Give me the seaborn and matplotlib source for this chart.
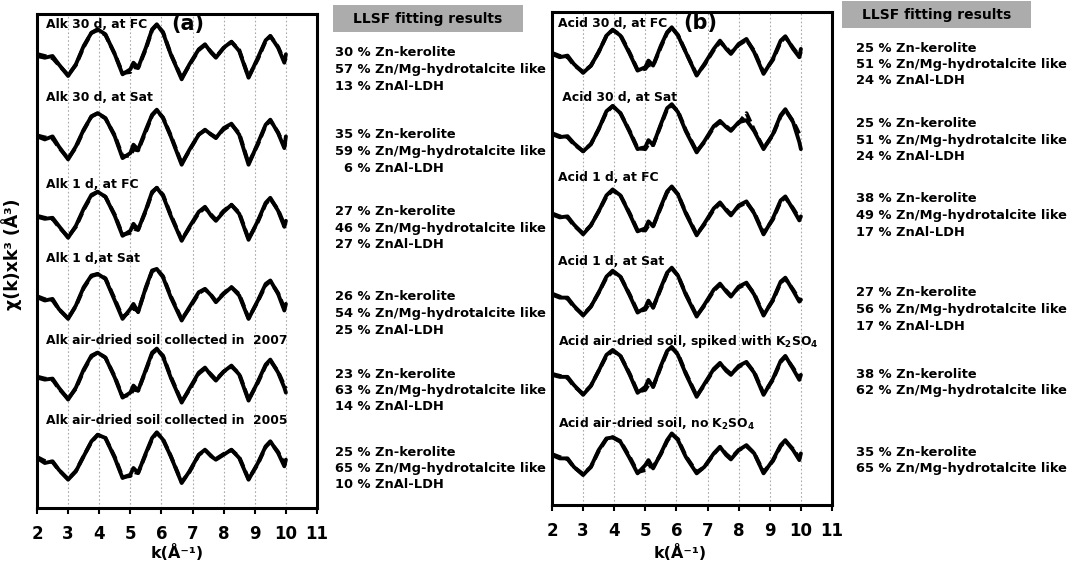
import numpy as np
import pandas as pd
import seaborn as sns
import matplotlib.pyplot as plt
from matplotlib.patches import Rectangle

# k grid (Å^-1) shared by every spectrum
k = [2.0, 2.25, 2.5, 2.7, 3.0, 3.25, 3.5, 3.75, 3.95, 4.2, 4.5, 4.75, 5.0, 5.1,
     5.25, 5.5, 5.7, 5.85, 6.05, 6.3, 6.65, 6.9, 7.2, 7.4, 7.6, 7.75, 8.0, 8.25,
     8.5, 8.8, 9.1, 9.35, 9.5, 9.75, 9.95, 10.0]

# panel (a) - alkaline soil, data (solid) and LLSF fit (dashed)
alk_30d_fc = [0.0, -0.17, 0.0, -0.83, -2.0, -0.83, 1.0, 2.33, 2.67, 2.17, 0.17, -1.83, -1.33, -0.67, -1.17, 0.83, 2.67, 3.17,
              2.33, 0.17, -2.33, -0.83, 0.67, 1.17, 0.33, -0.17, 0.83, 1.43, 0.5, -2.17, -0.17, 1.57, 2.0, 0.83, -0.67, 0.17]
alk_30d_fc_fit = [0.2, 0.0, -0.2, -0.9, -1.9, -0.9, 0.9, 2.3, 2.6, 2.1, 0.2, -1.7, -1.6, -1.1, -1.2, 0.7, 2.6, 3.1,
                  2.4, 0.2, -2.2, -0.9, 0.6, 1.1, 0.4, -0.1, 0.8, 1.4, 0.6, -2.1, -0.3, 1.5, 2.0, 0.9, -0.5, -0.2]
alk_30d_sat = [0.0, -0.3, 0.0, -1.0, -2.3, -1.0, 0.67, 2.0, 2.33, 1.83, 0.0, -2.17, -1.67, -0.83, -1.33, 0.67, 2.17, 2.67,
               1.83, 0.0, -2.83, -1.33, 0.17, 0.67, 0.17, -0.17, 0.83, 1.27, 0.17, -2.83, -0.67, 1.17, 1.67, 0.33, -1.17, 0.0]
alk_30d_sat_fit = [0.1, -0.1, -0.2, -1.1, -2.2, -1.1, 0.6, 2.0, 2.3, 1.8, 0.1, -2.0, -1.9, -1.3, -1.4, 0.5, 2.1, 2.6,
                   1.9, 0.1, -2.7, -1.4, 0.2, 0.6, 0.2, -0.1, 0.7, 1.2, 0.3, -2.7, -0.8, 1.1, 1.6, 0.4, -1.0, -0.4]
alk_1d_fc = [0.0, -0.2, -0.1, -0.9, -2.1, -0.9, 0.8, 2.2, 2.5, 2.0, 0.1, -1.9, -1.4, -0.7, -1.3, 0.7, 2.5, 2.9,
             2.1, 0.1, -2.4, -1.0, 0.5, 1.0, 0.1, -0.4, 0.5, 1.2, 0.3, -2.3, -0.4, 1.4, 1.9, 0.6, -1.0, -0.4]
alk_1d_fc_fit = [0.1, -0.1, -0.2, -1.0, -2.0, -1.0, 0.7, 2.1, 2.5, 2.0, 0.2, -1.8, -1.6, -1.2, -1.3, 0.6, 2.4, 2.9,
                 2.2, 0.2, -2.3, -1.1, 0.4, 0.9, 0.2, -0.3, 0.6, 1.2, 0.4, -2.2, -0.5, 1.3, 1.8, 0.7, -0.8, -0.6]
alk_1d_sat = [0.0, -0.33, -0.17, -1.17, -2.17, -0.83, 1.0, 2.17, 2.33, 1.83, -0.33, -2.17, -1.17, -0.67, -1.5, 1.0, 2.67, 2.83,
              2.0, 0.0, -2.33, -1.0, 0.5, 0.83, 0.17, -0.5, 0.33, 1.0, 0.17, -2.17, -0.33, 1.33, 1.67, 0.33, -1.33, -0.67]
alk_1d_sat_fit = [0.1, -0.2, -0.3, -1.2, -2.1, -0.9, 0.9, 2.1, 2.3, 1.9, -0.2, -2.0, -1.4, -1.1, -1.4, 0.9, 2.6, 2.8,
                  2.1, 0.1, -2.2, -1.1, 0.4, 0.8, 0.2, -0.4, 0.4, 1.0, 0.3, -2.1, -0.4, 1.2, 1.6, 0.4, -1.1, -0.9]
alk_2007 = [0.0, -0.2, -0.1, -1.0, -2.2, -1.0, 0.8, 2.2, 2.5, 2.0, 0.0, -2.0, -1.5, -0.8, -1.3, 0.8, 2.5, 2.9,
            2.1, 0.0, -2.5, -1.1, 0.5, 1.0, 0.2, -0.3, 0.6, 1.2, 0.3, -2.3, -0.4, 1.3, 1.8, 0.5, -1.0, -1.5]
alk_2007_fit = [0.1, -0.1, -0.2, -1.1, -2.1, -1.1, 0.7, 2.1, 2.5, 2.0, 0.1, -1.9, -1.7, -1.2, -1.3, 0.7, 2.4, 2.8,
                2.2, 0.1, -2.4, -1.2, 0.4, 0.9, 0.3, -0.2, 0.6, 1.1, 0.4, -2.2, -0.5, 1.2, 1.7, 0.6, -0.8, -1.1]
alk_2005 = [0.0, -0.5, -0.33, -1.17, -2.17, -1.33, 0.17, 1.67, 2.33, 2.0, 0.0, -2.0, -1.67, -1.0, -1.5, 0.5, 2.0, 2.57,
            1.83, 0.17, -2.5, -1.33, 0.33, 0.83, 0.17, -0.17, 0.33, 0.83, 0.0, -2.17, -0.5, 1.17, 1.67, 0.5, -0.83, -0.17]
alk_2005_fit = [0.1, -0.3, -0.4, -1.2, -2.1, -1.3, 0.2, 1.6, 2.3, 2.0, 0.1, -1.9, -1.8, -1.4, -1.5, 0.4, 1.9, 2.5,
                1.9, 0.2, -2.4, -1.4, 0.3, 0.8, 0.2, -0.1, 0.4, 0.8, 0.1, -2.1, -0.6, 1.1, 1.6, 0.6, -0.6, -0.5]

# panel (b) - acid soil
acid_30d_fc = [0.0, -0.33, -0.17, -1.0, -1.9, -1.17, 0.17, 1.83, 2.43, 1.83, 0.0, -1.67, -1.33, -0.67, -1.17, 0.83, 2.17, 2.67,
               1.83, 0.17, -2.17, -1.0, 0.5, 1.33, 0.5, 0.0, 1.0, 1.5, 0.17, -2.0, -0.5, 1.33, 1.77, 0.5, -0.33, 0.5]
acid_30d_fc_fit = [0.1, -0.2, -0.3, -1.1, -1.8, -1.2, 0.2, 1.8, 2.4, 1.9, 0.1, -1.6, -1.5, -1.1, -1.2, 0.7, 2.1, 2.6,
                   1.9, 0.2, -2.1, -1.1, 0.4, 1.2, 0.6, 0.1, 0.9, 1.4, 0.3, -1.9, -0.6, 1.2, 1.7, 0.6, -0.2, 0.2]
acid_30d_sat = [0.0, -0.3, -0.2, -0.9, -1.73, -1.0, 0.5, 2.3, 2.83, 2.1, 0.2, -1.5, -1.3, -0.6, -1.1, 1.0, 2.6, 3.0,
                2.2, 0.3, -1.83, -0.7, 0.8, 1.33, 0.7, 0.33, 1.2, 1.4, 0.3, -1.5, 0.0, 1.9, 2.5, 1.2, -0.8, -1.5]
acid_30d_sat_fit = [0.1, -0.2, -0.3, -1.0, -1.7, -1.0, 0.5, 2.2, 2.8, 2.1, 0.3, -1.4, -1.5, -1.0, -1.1, 0.9, 2.5, 2.9,
                    2.3, 0.4, -1.7, -0.8, 0.7, 1.2, 0.8, 0.4, 1.1, 2.1, 0.4, -1.4, -0.1, 1.8, 2.4, 1.3, 0.0, 0.2]
acid_1d_fc = [0.0, -0.3, -0.2, -1.0, -2.0, -1.1, 0.3, 1.9, 2.5, 1.9, 0.0, -1.7, -1.4, -0.7, -1.2, 0.8, 2.3, 2.8,
              2.0, 0.1, -2.1, -0.9, 0.6, 1.2, 0.4, -0.1, 0.9, 1.3, 0.1, -2.0, -0.4, 1.4, 1.8, 0.5, -0.6, -0.2]
acid_1d_fc_fit = [0.1, -0.2, -0.3, -1.1, -1.9, -1.1, 0.3, 1.8, 2.4, 1.9, 0.1, -1.6, -1.6, -1.1, -1.2, 0.7, 2.2, 2.7,
                  2.0, 0.2, -2.0, -1.0, 0.5, 1.1, 0.5, 0.0, 0.8, 1.2, 0.2, -1.9, -0.5, 1.3, 1.7, 0.6, -0.4, -0.4]
acid_1d_sat = [0.0, -0.3, -0.3, -1.1, -2.1, -1.2, 0.2, 1.8, 2.4, 1.8, -0.1, -1.8, -1.3, -0.6, -1.3, 0.7, 2.2, 2.7,
               1.9, 0.0, -2.2, -1.0, 0.5, 1.1, 0.3, -0.2, 0.8, 1.2, 0.0, -2.1, -0.5, 1.3, 1.7, 0.4, -0.7, -0.5]
acid_1d_sat_fit = [0.1, -0.2, -0.4, -1.2, -2.0, -1.2, 0.2, 1.7, 2.3, 1.8, 0.0, -1.7, -1.5, -1.0, -1.3, 0.6, 2.1, 2.6,
                   1.9, 0.1, -2.1, -1.1, 0.4, 1.0, 0.4, -0.1, 0.7, 1.1, 0.1, -2.0, -0.6, 1.2, 1.6, 0.5, -0.5, -0.7]
acid_spiked = [0.0, -0.2, -0.2, -1.0, -2.0, -1.1, 0.4, 2.0, 2.5, 1.9, 0.0, -1.8, -1.2, -0.5, -1.2, 0.9, 2.4, 2.8,
               2.0, 0.1, -2.2, -0.9, 0.6, 1.2, 0.4, 0.0, 0.9, 1.3, 0.2, -2.0, -0.4, 1.4, 1.9, 0.6, -0.5, 0.0]
acid_spiked_fit = [0.1, -0.1, -0.3, -1.1, -1.9, -1.1, 0.4, 1.9, 2.4, 1.9, 0.1, -1.7, -1.5, -1.0, -1.2, 0.8, 2.3, 2.7,
                   2.1, 0.2, -2.1, -1.0, 0.5, 1.1, 0.5, 0.1, 0.8, 1.2, 0.3, -1.9, -0.5, 1.3, 1.8, 0.7, -0.3, -0.3]
acid_no_k2so4 = [0.0, -0.33, -0.33, -1.17, -2.0, -1.17, 0.5, 1.67, 1.77, 1.33, -0.33, -1.83, -1.0, -0.5, -1.33, 0.17, 1.5, 2.17,
                 1.5, -0.17, -1.83, -1.17, 0.17, 0.83, 0.0, -0.43, 0.5, 1.0, 0.17, -1.83, -0.5, 1.0, 1.5, 0.5, -0.5, 0.17]
acid_no_k2so4_fit = [0.1, -0.2, -0.4, -1.2, -1.9, -1.2, 0.4, 1.6, 1.8, 1.4, -0.2, -1.7, -1.5, -1.1, -1.2, 0.1, 1.4, 2.1,
                     1.6, -0.1, -1.7, -1.2, 0.1, 0.8, 0.1, -0.3, 0.5, 0.9, 0.2, -1.7, -0.6, 0.9, 1.4, 0.6, -0.3, -0.3]

labels_a = ['Alk 30 d, at FC', 'Alk 30 d, at Sat', 'Alk 1 d, at FC', 'Alk 1 d,at Sat',
            'Alk air-dried soil collected in  2007', 'Alk air-dried soil collected in  2005']
labels_b = ['Acid 30 d, at FC', ' Acid 30 d, at Sat', 'Acid 1 d, at FC', 'Acid 1 d, at Sat',
            'Acid air-dried soil, spiked with K$_2$SO$_4$', 'Acid air-dried soil, no K$_2$SO$_4$']

results_a = [['30 % Zn-kerolite', '57 % Zn/Mg-hydrotalcite like', '13 % ZnAl-LDH'],
             ['35 % Zn-kerolite', '59 % Zn/Mg-hydrotalcite like', '  6 % ZnAl-LDH'],
             ['27 % Zn-kerolite', '46 % Zn/Mg-hydrotalcite like', '27 % ZnAl-LDH'],
             ['26 % Zn-kerolite', '54 % Zn/Mg-hydrotalcite like', '25 % ZnAl-LDH'],
             ['23 % Zn-kerolite', '63 % Zn/Mg-hydrotalcite like', '14 % ZnAl-LDH'],
             ['25 % Zn-kerolite', '65 % Zn/Mg-hydrotalcite like', '10 % ZnAl-LDH']]
results_b = [['25 % Zn-kerolite', '51 % Zn/Mg-hydrotalcite like', '24 % ZnAl-LDH'],
             ['25 % Zn-kerolite', '51 % Zn/Mg-hydrotalcite like', '24 % ZnAl-LDH'],
             ['38 % Zn-kerolite', '49 % Zn/Mg-hydrotalcite like', '17 % ZnAl-LDH'],
             ['27 % Zn-kerolite', '56 % Zn/Mg-hydrotalcite like', '17 % ZnAl-LDH'],
             ['38 % Zn-kerolite', '62 % Zn/Mg-hydrotalcite like'],
             ['35 % Zn-kerolite', '65 % Zn/Mg-hydrotalcite like']]

panel_a = [(alk_30d_fc, alk_30d_fc_fit), (alk_30d_sat, alk_30d_sat_fit), (alk_1d_fc, alk_1d_fc_fit),
           (alk_1d_sat, alk_1d_sat_fit), (alk_2007, alk_2007_fit), (alk_2005, alk_2005_fit)]
panel_b = [(acid_30d_fc, acid_30d_fc_fit), (acid_30d_sat, acid_30d_sat_fit), (acid_1d_fc, acid_1d_fc_fit),
           (acid_1d_sat, acid_1d_sat_fit), (acid_spiked, acid_spiked_fit), (acid_no_k2so4, acid_no_k2so4_fit)]

sns.set_style('white')
plt.rcParams['font.family'] = ['DejaVu Sans']
plt.rcParams['font.weight'] = 'bold'
plt.rcParams['text.color'] = 'black'
plt.rcParams['xtick.color'] = 'black'
plt.rcParams['xtick.labelcolor'] = 'black'

W, H = 1073, 568
fig = plt.figure(figsize=(W / 100, H / 100), dpi=100)


def add_axes_px(left, top, right, bottom):
    return fig.add_axes([left / W, 1 - bottom / H, (right - left) / W, (bottom - top) / H])


def fig_text(x, y, s, **kw):
    return fig.text(x / W, 1 - y / H, s, **kw)


spacing = 8.04


def draw_panel(ax, spectra, labels, tag, tag_xy, label_dy):
    rows = []
    for i, (data, fit) in enumerate(spectra):
        off = spacing * (len(spectra) - 1 - i)
        for kind, vals in (('data', data), ('fit', fit)):
            for kk, v in zip(k, vals):
                rows.append({'k': kk, 'y': v + off, 'kind': kind, 'line': f'{i}-{kind}'})
        ax.text(2.3 if tag == '(a)' else 2.2, off + label_dy[i], labels[i], fontsize=8.9,
                fontweight='bold', va='center', ha='left', zorder=5)
    df = pd.DataFrame(rows)
    sns.lineplot(data=df, x='k', y='y', units='line', style='kind', estimator=None,
                 color='black', lw=2.8, dashes={'data': '', 'fit': (2.5, 1.2)},
                 legend=False, sort=False, ax=ax)
    ax.set_xlim(2, 11)
    ax.set_ylim(-5.0, 44.4)
    ax.set_xticks(range(2, 12))
    ax.set_yticks([])
    ax.set_xlabel('')
    ax.set_ylabel('')
    ax.grid(axis='x', color='#aaaaaa', ls=(0, (1.5, 2)), lw=0.8)
    ax.set_axisbelow(True)
    for sp in ax.spines.values():
        sp.set_linewidth(2.2)
        sp.set_color('black')
    ax.tick_params(axis='x', direction='out', length=4, width=1.5, bottom=True,
                   labelsize=12, pad=8)
    for t in ax.get_xticklabels():
        t.set_fontweight('bold')
    fig_text(tag_xy[0], tag_xy[1], tag, fontsize=15, fontweight='bold', ha='center', va='center')


ax_a = add_axes_px(37, 14, 317, 508)
ax_b = add_axes_px(552, 12, 832, 505)
draw_panel(ax_a, panel_a, labels_a, '(a)', (188, 24), [3.2, 3.9, 3.2, 3.9, 3.7, 3.8])
draw_panel(ax_b, panel_b, labels_b, '(b)', (700, 23), [3.0, 3.7, 3.7, 3.3, 3.3, 3.1])

# axis titles
fig_text(177, 553, 'k(Å⁻¹)', fontsize=11.5, fontweight='bold', ha='center', va='center')
fig_text(680, 553, 'k(Å⁻¹)', fontsize=11.5, fontweight='bold', ha='center', va='center')
fig_text(12, 254, 'χ(k)xk³ (Å³)', fontsize=12.5, fontweight='bold', rotation=90, ha='center', va='center')

# LLSF fitting results columns
for (bx0, by0, bx1, by1), tx, block_y, results in [
        ((333, 5, 523, 32), 335, [53, 135, 212, 297, 374, 452], results_a),
        ((842, 1, 1031, 28), 856, [48, 124, 199, 293, 374, 452], results_b)]:
    fig.patches.append(Rectangle((bx0 / W, 1 - by1 / H), (bx1 - bx0) / W, (by1 - by0) / H,
                                 transform=fig.transFigure, facecolor='#acacac',
                                 edgecolor='none', zorder=0))
    fig_text((bx0 + bx1) / 2, (by0 + by1) / 2, 'LLSF fitting results', fontsize=10,
             fontweight='bold', ha='center', va='center')
    for y0, lines in zip(block_y, results):
        for j, line in enumerate(lines):
            fig_text(tx, y0 + 16.5 * j, line, fontsize=9.4, fontweight='bold', ha='left', va='center')

fig.savefig('out.png', dpi=100)
